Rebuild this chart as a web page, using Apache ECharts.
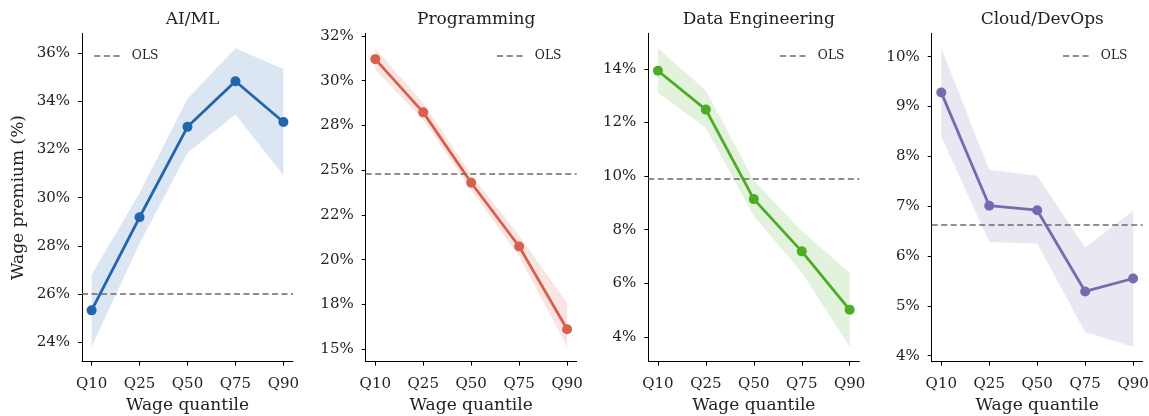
<!DOCTYPE html>
<html>
<head>
<meta charset="utf-8">
<script src="https://cdn.jsdelivr.net/npm/echarts@6/dist/echarts.min.js"></script>
<style>
  html, body { margin: 0; padding: 0; background: #fff; }
  #chart { width: 1149px; height: 416px; }
</style>
</head>
<body>
<div id="chart"></div>
<script>
// Quantile regression estimates of the skill wage premium, by skill group
const QUANTILES = ['Q10', 'Q25', 'Q50', 'Q75', 'Q90'];
const GROUPS = ['AI/ML', 'Programming', 'Data Engineering', 'Cloud/DevOps'];
const COLORS = ['#2166ac', '#d6604d', '#4dac26', '#756bb1'];

// point estimates (%)
const aiml        = [25.33, 29.19, 32.94, 34.83, 33.14];
const programming = [31.20, 28.23, 24.30, 20.74, 16.12];
const dataEng     = [13.93, 12.48, 9.14, 7.19, 5.01];
const cloud       = [9.28, 7.01, 6.92, 5.29, 5.55];

// 95% confidence band, lower / upper (%)
const aimlLo  = [23.82, 28.10, 31.87, 33.45, 30.93];
const aimlHi  = [26.81, 30.20, 34.10, 36.20, 35.34];
const progLo  = [30.61, 27.80, 23.90, 20.18, 15.14];
const progHi  = [31.81, 28.75, 24.75, 21.35, 17.57];
const deLo    = [13.10, 11.80, 8.51, 6.40, 3.63];
const deHi    = [14.77, 13.19, 9.83, 7.95, 6.39];
const cloudLo = [8.40, 6.28, 6.25, 4.47, 4.18];
const cloudHi = [10.17, 7.73, 7.61, 6.17, 6.91];

// OLS benchmark (%)
const ols = [26.02, 24.82, 9.90, 6.63];

// y-axis tick values
const aimlTicks  = [24, 26, 28, 30, 32, 34, 36];
const progTicks  = [15, 17.5, 20, 22.5, 25, 27.5, 30, 32.5];
const deTicks    = [4, 6, 8, 10, 12, 14];
const cloudTicks = [4, 5, 6, 7, 8, 9, 10];

const estimates = [aiml, programming, dataEng, cloud];
const lows  = [aimlLo, progLo, deLo, cloudLo];
const highs = [aimlHi, progHi, deHi, cloudHi];
const ticks = [aimlTicks, progTicks, deTicks, cloudTicks];

const FONT = 'DejaVu Serif';
const INK = '#222';
const OLS_COLOR = '#6b6b6b';
const OLS_DASH = [6, 3.5];
const X_MIN = -0.2, X_MAX = 4.2;
const GRID_LEFT = [82, 365.7, 648.3, 931.7];
const GRID_W = 211, GRID_TOP = 33.3, GRID_H = 328.4;

// percent labels rounded half-to-even, e.g. 17.5 -> 18, 22.5 -> 22
function pctLabel(v) {
  const f = Math.floor(v);
  let r;
  if (Math.abs(v - f - 0.5) < 1e-9) r = (f % 2 === 0) ? f : f + 1;
  else r = Math.round(v);
  return r + '%';
}

function alpha(hex, a) {
  const n = parseInt(hex.slice(1), 16);
  return 'rgba(' + (n >> 16) + ',' + ((n >> 8) & 255) + ',' + (n & 255) + ',' + a + ')';
}

const grid = [], xAxis = [], yAxis = [], series = [], title = [], legend = [];

GROUPS.forEach((name, i) => {
  const lo = Math.min(...lows[i]), hi = Math.max(...highs[i]);
  const pad = (hi - lo) * 0.05;
  grid.push({
    left: GRID_LEFT[i], top: GRID_TOP, width: GRID_W, height: GRID_H,
    containLabel: false, outerBoundsMode: 'none'
  });

  title.push({
    text: name, left: GRID_LEFT[i] + GRID_W / 2, top: 6, textAlign: 'center',
    textStyle: { fontFamily: FONT, fontSize: 17, fontWeight: 'normal', color: INK }
  });

  xAxis.push({
    gridIndex: i, type: 'value', min: X_MIN, max: X_MAX,
    name: 'Wage quantile', nameLocation: 'middle', nameGap: 35,
    nameTextStyle: { fontFamily: FONT, fontSize: 17, color: INK },
    axisLine: { show: true, onZero: false, lineStyle: { color: '#000', width: 1 } },
    axisTick: { show: true, length: 4, customValues: [0, 1, 2, 3, 4], lineStyle: { color: '#000' } },
    axisLabel: {
      customValues: [0, 1, 2, 3, 4], margin: 15,
      fontFamily: FONT, fontSize: 15, color: INK,
      formatter: v => QUANTILES[Math.round(v)]
    },
    splitLine: { show: false }
  });

  yAxis.push({
    gridIndex: i, type: 'value', min: lo - pad, max: hi + pad,
    name: i === 0 ? 'Wage premium (%)' : '', nameLocation: 'middle', nameGap: 55,
    nameTextStyle: { fontFamily: FONT, fontSize: 17, color: INK },
    axisLine: { show: true, onZero: false, lineStyle: { color: '#000', width: 1 } },
    axisTick: { show: true, length: 4, customValues: ticks[i], lineStyle: { color: '#000' } },
    axisLabel: {
      customValues: ticks[i], margin: 12,
      fontFamily: FONT, fontSize: 15, color: INK,
      formatter: pctLabel
    },
    splitLine: { show: false }
  });

  const lowArr = lows[i], highArr = highs[i];

  // confidence band as one polygon: upper edge left-to-right, lower edge back
  series.push({
    type: 'custom', xAxisIndex: i, yAxisIndex: i, silent: true, clip: true, z: 1,
    data: lowArr.map((l, k) => [k, l, highArr[k]]),
    encode: { x: 0, y: [1, 2] },
    renderItem: (params, api) => {
      if (params.dataIndex !== 0) return null;
      const pts = [];
      highArr.forEach((h, k) => pts.push(api.coord([k, h])));
      for (let k = lowArr.length - 1; k >= 0; k--) pts.push(api.coord([k, lowArr[k]]));
      return {
        type: 'polygon',
        shape: { points: pts },
        style: { fill: alpha(COLORS[i], 0.16), stroke: null }
      };
    }
  });

  // OLS reference line
  series.push({
    name: 'OLS', type: 'line', xAxisIndex: i, yAxisIndex: i, data: [],
    symbol: 'none', lineStyle: { color: OLS_COLOR, width: 1.5, type: OLS_DASH },
    itemStyle: { color: OLS_COLOR },
    markLine: {
      silent: true, symbol: 'none', label: { show: false },
      lineStyle: { color: OLS_COLOR, width: 1.5, type: OLS_DASH },
      data: [{ yAxis: ols[i] }]
    },
    z: 2
  });

  // quantile estimates
  series.push({
    type: 'line', xAxisIndex: i, yAxisIndex: i, data: estimates[i].map((v, k) => [k, v]),
    symbol: 'circle', symbolSize: 10,
    lineStyle: { color: COLORS[i], width: 2.8 }, itemStyle: { color: COLORS[i] },
    z: 3
  });
});

// one OLS key per panel: three short dashes followed by the label
const DASH_ICON = 'path://M0,0h6.2v1.5h-6.2zM9.7,0h6.2v1.5h-6.2zM19.4,0h6.2v1.5h-6.2z';
const legendLeft = [94, 497, 780, 1063];
legendLeft.forEach(x => legend.push({
  data: [{ name: 'OLS', icon: DASH_ICON }], left: x, top: 50, padding: 0,
  itemWidth: 26, itemHeight: 1.5, selectedMode: false,
  itemStyle: { color: OLS_COLOR },
  textStyle: { fontFamily: FONT, fontSize: 12.3, color: INK, padding: [0, 0, 0, 7] }
}));

const chart = echarts.init(document.getElementById('chart'), null, { renderer: 'canvas' });
chart.setOption({
  animation: false,
  backgroundColor: '#fff',
  title, legend, grid, xAxis, yAxis, series
});
</script>
</body>
</html>
